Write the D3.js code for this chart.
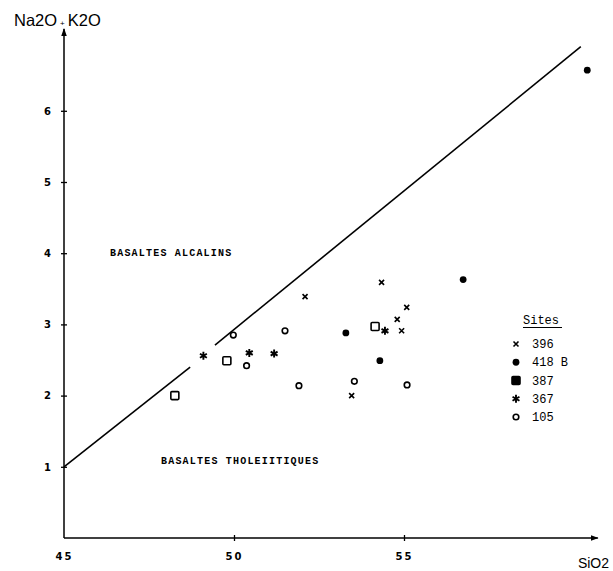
<!DOCTYPE html>
<html>
<head>
<meta charset="utf-8">
<script src="https://cdn.jsdelivr.net/npm/d3@7"></script>
<style>
    body { margin: 0; background: #fff; }
    svg { display: block; }
    .tick text { font-family: "DejaVu Sans", sans-serif; font-weight: bold; font-size: 10px; letter-spacing: 2px; fill: #000; }
    .tick line { stroke: #000; stroke-width: 1.3; }
    .zone { font-family: "Liberation Mono", monospace; font-weight: bold; font-size: 10px; letter-spacing: 1.2px; }
    .legend text { font-family: "Liberation Mono", monospace; font-size: 12px; }
</style>
</head>
<body>
<svg id="chart" width="613" height="571"></svg>
<script>
    var sites = ["396", "418 B", "387", "367", "105"];

    var site_396 = [[52.09, 3.39], [54.34, 3.59], [55.08, 3.24], [54.80, 3.07], [54.93, 2.91], [53.46, 2.00]];
    var site_418B = [[60.39, 6.57], [56.74, 3.63], [53.29, 2.88], [54.29, 2.49]];
    var site_387 = [[48.26, 2.00], [49.79, 2.49], [54.15, 2.97]];
    var site_367 = [[49.10, 2.56], [50.45, 2.60], [51.18, 2.59], [54.44, 2.91]];
    var site_105 = [[49.98, 2.85], [51.50, 2.91], [50.37, 2.42], [51.91, 2.14], [53.54, 2.20], [55.09, 2.15]];

    // limite alcalin / tholeiitique (coupee au niveau du point 367)
    var limit_low = [[45.0, 1.00], [48.71, 2.40]];
    var limit_high = [[49.44, 2.71], [60.20, 6.90]];

    var x_ticks = [45, 50, 55];
    var y_ticks = [1, 2, 3, 4, 5, 6];
    var x_max = 60.7, y_max = 7.15;

    var svg = d3.select("#chart");

    var x = d3.scaleLinear().domain([45, 55]).range([64, 404]);
    var y = d3.scaleLinear().domain([0, 5]).range([538, 182]);

    svg.append("defs").append("marker")
        .attr("id", "arrow")
        .attr("viewBox", "0 0 10 10")
        .attr("refX", 9).attr("refY", 5)
        .attr("markerWidth", 8).attr("markerHeight", 8)
        .attr("markerUnits", "userSpaceOnUse")
        .attr("orient", "auto")
        .append("path")
        .attr("d", "M0,1.5 L10,5 L0,8.5 Z")
        .attr("fill", "#000");

    // axes
    var xAxis = svg.append("g")
        .attr("transform", "translate(0," + y(0) + ")")
        .call(d3.axisBottom(x).tickValues(x_ticks).tickSize(3).tickSizeOuter(0).tickPadding(12));
    xAxis.select(".domain").remove();
    xAxis.selectAll(".tick line").attr("y1", -3);
    xAxis.selectAll(".tick").filter(function(d) { return d == 45; }).select("line").remove();

    var yAxis = svg.append("g")
        .attr("transform", "translate(" + x(45) + ",0)")
        .call(d3.axisLeft(y).tickValues(y_ticks).tickFormat(d3.format("d")).tickSize(3).tickSizeOuter(0).tickPadding(8));
    yAxis.select(".domain").remove();
    yAxis.selectAll(".tick line").attr("x1", 3);
    yAxis.selectAll(".tick text").attr("letter-spacing", 0);

    svg.append("line")
        .attr("x1", x(45)).attr("y1", y(0))
        .attr("x2", x(x_max)).attr("y2", y(0))
        .attr("stroke", "#000").attr("stroke-width", 1.5)
        .attr("marker-end", "url(#arrow)");

    svg.append("line")
        .attr("x1", x(45)).attr("y1", y(0))
        .attr("x2", x(45)).attr("y2", y(y_max))
        .attr("stroke", "#000").attr("stroke-width", 1.5)
        .attr("marker-end", "url(#arrow)");

    var ytitle = svg.append("text")
        .attr("x", 14).attr("y", 26)
        .attr("font-family", "Liberation Sans, Arial, sans-serif")
        .attr("font-size", 16.5);
    ytitle.append("tspan").text("Na2O");
    ytitle.append("tspan").attr("font-size", 8).attr("dx", 3).text("+");
    ytitle.append("tspan").attr("dx", 3).text("K2O");

    svg.append("text")
        .attr("x", 609).attr("y", 568)
        .attr("text-anchor", "end")
        .attr("font-family", "Liberation Sans, Arial, sans-serif")
        .attr("font-size", 14)
        .text("SiO2");

    // droite de separation
    var line = d3.line().x(function(d) { return x(d[0]); }).y(function(d) { return y(d[1]); });
    [limit_low, limit_high].forEach(function(seg) {
        svg.append("path")
            .attr("d", line(seg))
            .attr("fill", "none")
            .attr("stroke", "#000")
            .attr("stroke-width", 1.6);
    });

    svg.append("text").attr("class", "zone")
        .attr("x", 110).attr("y", 256)
        .text("BASALTES ALCALINS");
    svg.append("text").attr("class", "zone")
        .attr("x", 161).attr("y", 464)
        .text("BASALTES THOLEIITIQUES");

    // symboles
    var asterisk = {
        draw: function(ctx, size) {
            var r = Math.sqrt(size) / 2;
            for (var i = 0; i < 3; i++) {
                var a = Math.PI / 2 + i * Math.PI / 3;
                ctx.moveTo(r * Math.cos(a), r * Math.sin(a));
                ctx.lineTo(-r * Math.cos(a), -r * Math.sin(a));
            }
        }
    };

    function drawSymbol(g, type, legend) {
        if (type == "x") {
            g.append("path").attr("d", "M-2.5,-2.5L2.5,2.5M2.5,-2.5L-2.5,2.5")
                .attr("stroke", "#000").attr("stroke-width", 1.6).attr("fill", "none");
        } else if (type == "dot") {
            g.append("circle").attr("r", 3.4).attr("fill", "#000");
        } else if (type == "square") {
            g.append("rect").attr("x", -4).attr("y", -4).attr("width", 8).attr("height", 8)
                .attr("rx", 1)
                .attr("fill", legend ? "#000" : "#fff").attr("stroke", "#000").attr("stroke-width", 1.6);
        } else if (type == "star") {
            g.append("path").attr("d", d3.symbol().type(asterisk).size(64)())
                .attr("stroke", "#000").attr("stroke-width", 1.9);
        } else {
            g.append("circle").attr("r", 2.8).attr("fill", "#fff")
                .attr("stroke", "#000").attr("stroke-width", 1.6);
        }
    }

    var types = ["x", "dot", "square", "star", "ring"];
    var series = [site_396, site_418B, site_387, site_367, site_105];

    series.forEach(function(pts, i) {
        svg.append("g").selectAll("g")
            .data(pts)
            .enter()
            .append("g")
            .attr("transform", function(d) { return "translate(" + x(d[0]) + "," + y(d[1]) + ")"; })
            .each(function() { drawSymbol(d3.select(this), types[i], false); });
    });

    // legende
    var legend = svg.append("g").attr("class", "legend");
    legend.append("text")
        .attr("x", 523).attr("y", 324)
        .attr("font-size", 13)
        .text("Sites");
    legend.append("line")
        .attr("x1", 523).attr("x2", 562)
        .attr("y1", 327.5).attr("y2", 327.5)
        .attr("stroke", "#000").attr("stroke-width", 1.2);

    var row = d3.scaleLinear().domain([0, 4]).range([344, 417]);
    sites.forEach(function(s, i) {
        var g = legend.append("g").attr("transform", "translate(516," + row(i) + ")");
        drawSymbol(g, types[i], true);
        legend.append("text")
            .attr("x", 532).attr("y", row(i) + 4)
            .text(s);
    });
</script>
</body>
</html>
